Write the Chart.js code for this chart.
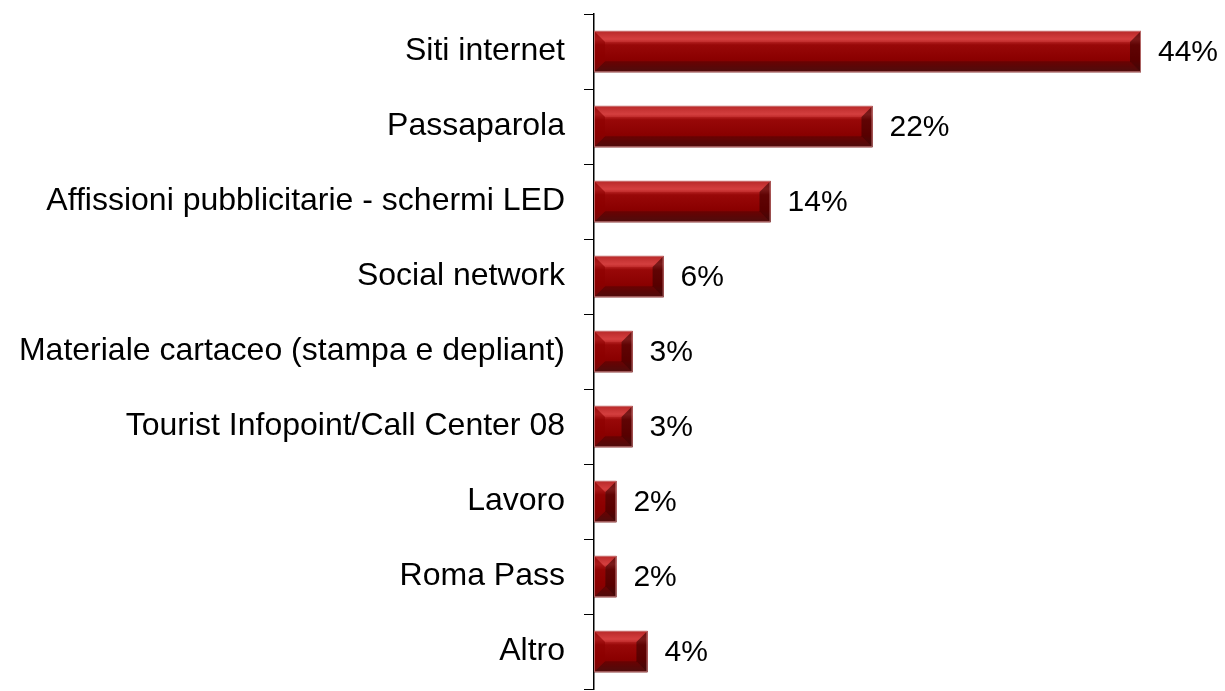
<!DOCTYPE html>
<html>
<head>
<meta charset="utf-8">
<script src="https://cdn.jsdelivr.net/npm/chart.js@4/dist/chart.umd.min.js"></script>
<style>
  html, body { margin: 0; padding: 0; background: #fff; }
  #wrap { width: 1225px; height: 691px; position: relative; }
</style>
</head>
<body>
<div id="wrap"><canvas id="chart"></canvas></div>
<script>
// categories and values
var categories = [
    'Siti internet',
    'Passaparola',
    'Affissioni pubblicitarie - schermi LED',
    'Social network',
    'Materiale cartaceo (stampa e depliant)',
    'Tourist Infopoint/Call Center 08',
    'Lavoro',
    'Roma Pass',
    'Altro'
];
var shares = [44.0, 22.4, 14.2, 5.6, 3.1, 3.1, 1.8, 1.8, 4.3];
var shareLabels = ['44%', '22%', '14%', '6%', '3%', '3%', '2%', '2%', '4%'];

var FONT = "'Liberation Sans', Arial, sans-serif";

// bevelled bar look, drawn on top of each bar element
var bevelBars = {
    id: 'bevelBars',
    afterDatasetsDraw: function (chart) {
        var ctx = chart.ctx;
        var meta = chart.getDatasetMeta(0);
        meta.data.forEach(function (bar, i) {
            var x0 = bar.base, x1 = bar.x;
            var y0 = bar.y - bar.height / 2, y1 = bar.y + bar.height / 2;
            var w = x1 - x0, h = y1 - y0;
            var b = Math.min(11, w / 2, h / 2);
            ctx.save();
            // body gradient
            var g = ctx.createLinearGradient(0, y0, 0, y1);
            g.addColorStop(0, '#a81a1a');
            g.addColorStop(0.2, '#cc3434');
            g.addColorStop(0.34, '#980808');
            g.addColorStop(0.7, '#8a0000');
            g.addColorStop(0.85, '#700a0a');
            g.addColorStop(1, '#5a1212');
            ctx.fillStyle = g;
            ctx.fillRect(x0, y0, w, h);
            // top bevel
            ctx.beginPath();
            ctx.moveTo(x0, y0); ctx.lineTo(x1, y0); ctx.lineTo(x1 - b, y0 + b); ctx.lineTo(x0 + b, y0 + b); ctx.closePath();
            ctx.fillStyle = 'rgba(255,110,110,0.18)';
            ctx.fill();
            // bottom bevel
            ctx.beginPath();
            ctx.moveTo(x0, y1); ctx.lineTo(x1, y1); ctx.lineTo(x1 - b, y1 - b); ctx.lineTo(x0 + b, y1 - b); ctx.closePath();
            ctx.fillStyle = 'rgba(50,0,0,0.3)';
            ctx.fill();
            // left bevel
            ctx.beginPath();
            ctx.moveTo(x0, y0); ctx.lineTo(x0 + b, y0 + b); ctx.lineTo(x0 + b, y1 - b); ctx.lineTo(x0, y1); ctx.closePath();
            ctx.fillStyle = 'rgba(140,0,0,0.55)';
            ctx.fill();
            // right bevel
            ctx.beginPath();
            ctx.moveTo(x1, y0); ctx.lineTo(x1 - b, y0 + b); ctx.lineTo(x1 - b, y1 - b); ctx.lineTo(x1, y1); ctx.closePath();
            ctx.fillStyle = 'rgba(40,0,0,0.5)';
            ctx.fill();
            // light rim
            ctx.strokeStyle = 'rgba(210,140,140,0.7)';
            ctx.lineWidth = 1;
            ctx.strokeRect(x0 + 0.5, y0 + 0.5, w - 1, h - 1);
            // value label
            ctx.fillStyle = '#000';
            ctx.font = '30px ' + FONT;
            ctx.textAlign = 'left';
            ctx.textBaseline = 'middle';
            ctx.fillText(shareLabels[i], x1 + 17, bar.y + 1);
            ctx.restore();
        });
    }
};

var ctx = document.getElementById('chart');
new Chart(ctx, {
    type: 'bar',
    data: {
        labels: categories,
        datasets: [{
            data: shares,
            backgroundColor: '#8a0000',
            borderWidth: 0,
            categoryPercentage: 1,
            barPercentage: 0.55
        }]
    },
    options: {
        indexAxis: 'y',
        responsive: true,
        maintainAspectRatio: false,
        animation: false,
        layout: { padding: { top: 14, right: 84, bottom: 2, left: 0 } },
        plugins: {
            legend: { display: false },
            tooltip: { enabled: false }
        },
        scales: {
            x: {
                display: false,
                min: 0,
                max: 44
            },
            y: {
                afterFit: function (scale) {
                    scale.width = 594;
                    scale.paddingTop = 0;
                    scale.paddingBottom = 0;
                },
                border: { display: true, color: '#000', width: 1.5 },
                grid: {
                    offset: true,
                    drawOnChartArea: false,
                    drawTicks: true,
                    tickLength: 10,
                    color: '#000',
                    lineWidth: 1
                },
                ticks: {
                    color: '#000',
                    padding: 19,
                    font: { family: FONT, size: 32 }
                }
            }
        }
    },
    plugins: [bevelBars]
});
</script>
</body>
</html>
